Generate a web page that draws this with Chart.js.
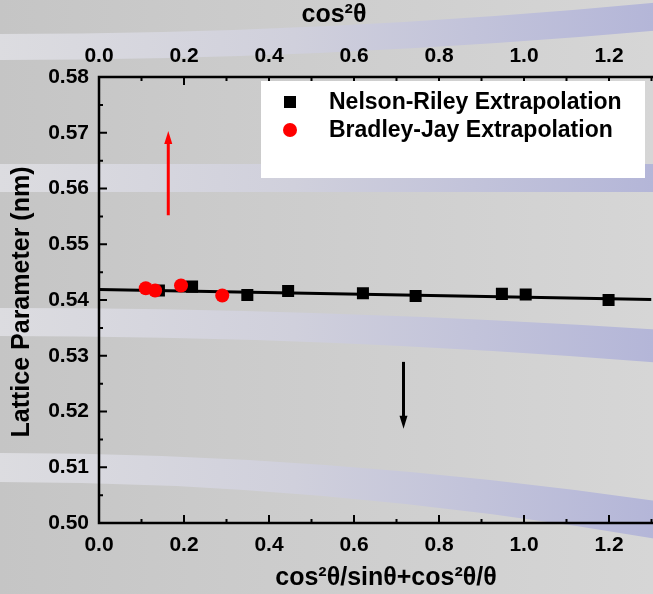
<!DOCTYPE html>
<html>
<head>
<meta charset="utf-8">
<script src="https://cdn.jsdelivr.net/npm/chart.js@4.4.1/dist/chart.umd.min.js"></script>
<style>
  html, body { margin: 0; padding: 0; background: #c8c8c8; overflow: hidden; }
  #wrap { width: 653px; height: 594px; overflow: hidden; position: relative; }
  #chart { position: absolute; left: 0; top: 0; }
</style>
</head>
<body>
<div id="wrap"><canvas id="chart" width="660" height="594"></canvas></div>
<script>
// Данные
const nelsonX = [0.141, 0.219, 0.349, 0.445, 0.621, 0.745, 0.948, 1.004, 1.199];
const nelsonY = [0.5417, 0.5424, 0.5409, 0.5416, 0.5412, 0.5407, 0.5411, 0.5410, 0.5400];
const bradleyX = [0.110, 0.132, 0.193, 0.290];
const bradleyY = [0.5421, 0.5417, 0.5426, 0.5408];
// линия аппроксимации
const fitX = [0, 1.3];
const fitY = [0.5419, 0.5401];
// стрелки: x, y начала, y конца
const arrowRed = [0.163, 0.5552, 0.5703];
const arrowBlack = [0.7165, 0.5289, 0.5169];

const legendLabels = ['Nelson-Riley Extrapolation', 'Bradley-Jay Extrapolation'];
const FONT = '"Liberation Sans", Arial, sans-serif';

function pts(xs, ys) { return xs.map((x, i) => ({ x: x, y: ys[i] })); }

// фон как на слайде
const bgPlugin = {
  id: 'bg',
  beforeDraw(chart) {
    const c = chart.ctx, W = 653, H = 594;
    c.save();
    let g = c.createLinearGradient(0, 0, W, 0);
    g.addColorStop(0, '#c5c5c5');
    g.addColorStop(1, '#d6d6d6');
    c.fillStyle = g;
    c.fillRect(0, 0, chart.width, H);
    let bg = c.createLinearGradient(0, 0, W, 0);
    bg.addColorStop(0, '#dcdce0');
    bg.addColorStop(0.45, '#d0d0dc');
    bg.addColorStop(1, '#b4b6d8');
    c.fillStyle = bg;
    const bands = [[34, 2, 60, 30], [164, 164, 192, 192], [308, 330, 336, 363], [453, 502, 482, 540]];
    bands.forEach(b => {
      c.beginPath();
      c.moveTo(0, b[0]);
      c.quadraticCurveTo(W / 2, b[0], W + 10, b[1]);
      c.lineTo(W + 10, b[3]);
      c.quadraticCurveTo(W / 2, b[2], 0, b[2]);
      c.closePath();
      c.fill();
    });
    c.restore();
  }
};

// оси, засечки внутрь, подписи осей, легенда, стрелки
const decorPlugin = {
  id: 'decor',
  afterDatasetsDraw(chart) {
    const c = chart.ctx, a = chart.chartArea;
    const xs = chart.scales.x, ys = chart.scales.y;
    c.save();
    c.strokeStyle = '#000';
    c.lineWidth = 2.5;
    c.beginPath();
    c.moveTo(a.right + 5, a.top); c.lineTo(a.left, a.top);
    c.lineTo(a.left, a.bottom); c.lineTo(a.right + 5, a.bottom);
    c.stroke();
    c.lineWidth = 2;
    c.beginPath();
    for (let i = 0; i <= 13; i++) {
      const px = xs.getPixelForValue(i / 10);
      const len = i % 2 === 0 ? 8 : 4;
      c.moveTo(px, a.bottom); c.lineTo(px, a.bottom - len);
      c.moveTo(px, a.top); c.lineTo(px, a.top + len);
    }
    for (let i = 0; i <= 16; i++) {
      const py = ys.getPixelForValue(0.5 + i * 0.005);
      const len = i % 2 === 0 ? 8 : 4;
      c.moveTo(a.left, py); c.lineTo(a.left + len, py);
    }
    c.stroke();

    // стрелки
    function arrow(d, color) {
      const x = xs.getPixelForValue(d[0]);
      const y0 = ys.getPixelForValue(d[1]);
      const y1 = ys.getPixelForValue(d[2]);
      const dir = y1 < y0 ? 1 : -1;
      c.strokeStyle = color; c.fillStyle = color; c.lineWidth = 3;
      c.beginPath(); c.moveTo(x, y0); c.lineTo(x, y1 + dir * 10); c.stroke();
      c.beginPath();
      c.moveTo(x, y1); c.lineTo(x - 4, y1 + dir * 13); c.lineTo(x + 4, y1 + dir * 13);
      c.closePath(); c.fill();
    }
    arrow(arrowRed, '#ff0000');
    arrow(arrowBlack, '#000000');

    // легенда
    c.fillStyle = '#fff';
    c.fillRect(261, 81, 384, 97);
    c.fillStyle = '#000';
    c.fillRect(284, 96, 12, 12);
    c.fillStyle = '#ff0000';
    c.beginPath(); c.arc(290, 130, 7, 0, Math.PI * 2); c.fill();
    c.fillStyle = '#000';
    c.font = 'bold 23px ' + FONT;
    c.textBaseline = 'middle';
    c.textAlign = 'left';
    c.fillText(legendLabels[0], 329, 103);
    c.fillText(legendLabels[1], 329, 131);

    // подписи осей
    c.font = 'bold 25px ' + FONT;
    c.textAlign = 'center';
    c.fillText('cos\u00B2\u03B8', 334, 15);
    c.fillText('cos\u00B2\u03B8/sin\u03B8+cos\u00B2\u03B8/\u03B8', 386, 578);
    c.translate(22, 302);
    c.rotate(-Math.PI / 2);
    c.fillText('Lattice Parameter (nm)', 0, 0);
    c.restore();
  }
};

const tickFont = { family: FONT, size: 21, weight: 'bold' };

const ctx = document.getElementById('chart').getContext('2d');
const chart = new Chart(ctx, {
  type: 'scatter',
  data: {
    datasets: [
      {
        label: 'fit',
        type: 'line',
        data: pts(fitX, fitY),
        borderColor: '#000',
        borderWidth: 3,
        pointRadius: 0,
        fill: false,
        order: 3
      },
      {
        label: legendLabels[0],
        data: pts(nelsonX, nelsonY),
        pointStyle: 'rect',
        pointRadius: 8.5,
        backgroundColor: '#000',
        borderColor: '#000',
        borderWidth: 0,
        order: 2
      },
      {
        label: legendLabels[1],
        data: pts(bradleyX, bradleyY),
        pointStyle: 'circle',
        pointRadius: 7,
        backgroundColor: '#ff0000',
        borderColor: '#ff0000',
        borderWidth: 0,
        order: 1
      }
    ]
  },
  options: {
    responsive: false,
    animation: false,
    layout: { padding: { left: 0, right: 6, top: 0, bottom: 0 } },
    plugins: { legend: { display: false }, tooltip: { enabled: false } },
    scales: {
      x: {
        type: 'linear', position: 'bottom', min: 0, max: 1.3,
        grid: { display: false, drawTicks: false },
        border: { display: false },
        ticks: {
          stepSize: 0.2, includeBounds: false, padding: 10, color: '#000',
          font: tickFont, maxRotation: 0, autoSkip: false,
          callback: v => v.toFixed(1)
        },
        afterFit: s => { s.height = 71; }
      },
      x2: {
        type: 'linear', position: 'top', min: 0, max: 1.3,
        grid: { display: false, drawTicks: false },
        border: { display: false },
        ticks: {
          stepSize: 0.2, includeBounds: false, padding: 8, color: '#000',
          font: tickFont, maxRotation: 0, autoSkip: false,
          callback: v => v.toFixed(1)
        },
        afterFit: s => { s.height = 77; }
      },
      y: {
        type: 'linear', min: 0.5, max: 0.58,
        grid: { display: false, drawTicks: false },
        border: { display: false },
        ticks: {
          stepSize: 0.01, padding: 10, color: '#000',
          font: tickFont,
          callback: v => v.toFixed(2)
        },
        afterFit: s => { s.width = 99; }
      }
    }
  },
  plugins: [bgPlugin, decorPlugin]
});
</script>
</body>
</html>
